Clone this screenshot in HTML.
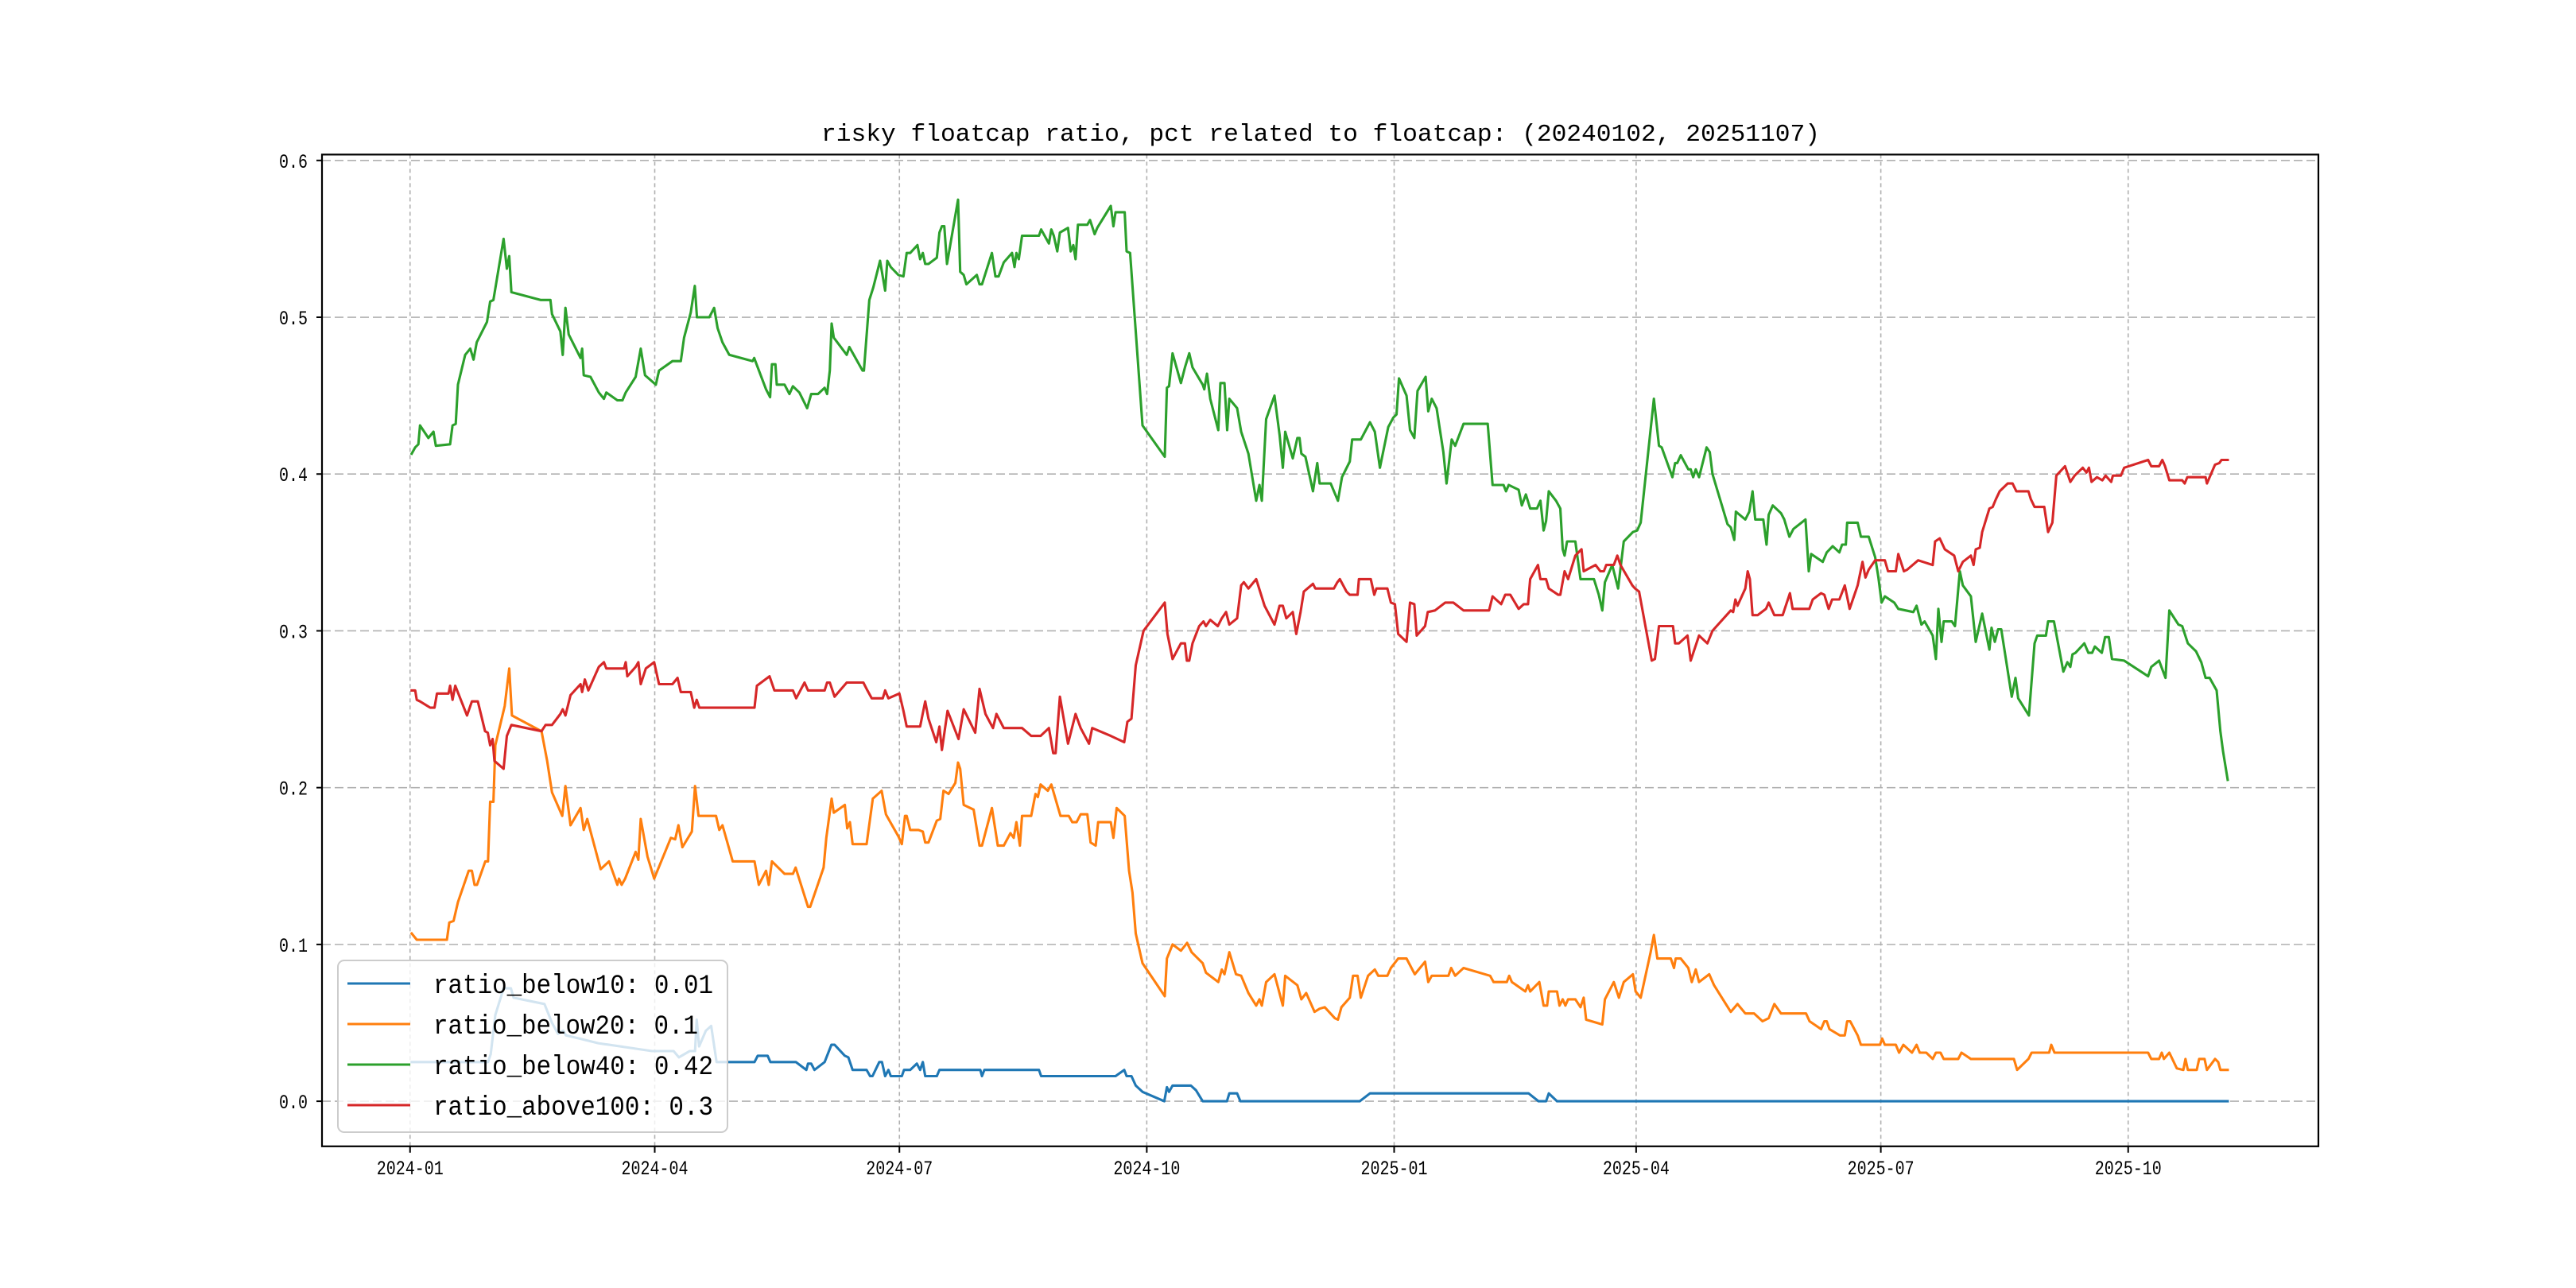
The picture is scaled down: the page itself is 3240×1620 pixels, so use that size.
<!DOCTYPE html>
<html><head><meta charset="utf-8"><title>risky floatcap ratio</title>
<style>html,body{margin:0;padding:0;background:#fff}svg{display:block}</style></head>
<body>
<svg id="chart" xmlns="http://www.w3.org/2000/svg" width="3240" height="1620" viewBox="0 0 3240 1620">
<rect x="0" y="0" width="3240" height="1620" fill="#fff"/>
<text x="1033" y="177" font-family="Liberation Mono, monospace" font-size="31" textLength="1256" lengthAdjust="spacingAndGlyphs" fill="#000">risky floatcap ratio, pct related to floatcap: (20240102, 20251107)</text>
<g id="grid"></g>
<g id="series"></g>
<rect x="405" y="194.4" width="2511" height="1247.4" fill="none" stroke="#000" stroke-width="2.2"/>
<g id="ticks"></g>
<g id="legend"></g>
</svg>
<script>
const yTicks = [0.0, 0.1, 0.2, 0.3, 0.4, 0.5, 0.6];
const yTickLabels = ["0.0", "0.1", "0.2", "0.3", "0.4", "0.5", "0.6"];
const xTickDays = [0, 91, 182, 274, 366, 456, 547, 639];
const xTickLabels = ["2024-01", "2024-04", "2024-07", "2024-10", "2025-01", "2025-04", "2025-07", "2025-10"];
const seriesNames = ["ratio_below10: 0.01", "ratio_below20: 0.1", "ratio_below40: 0.42", "ratio_above100: 0.3"];
const seriesColors = ["#1f77b4", "#ff7f0e", "#2ca02c", "#d62728"];
// [days since 2024-01-01, value]
const below10Points = [[0.6,.025],[29,.025],[30,.03],[31.7,.055],[34.8,.072],[37.5,.072],[38.5,.066],[50,.062],[52.8,.05],[55,.043],[57,.045],[58,.042],[63,.04],[70,.037],[90,.032],[98,.032],[100,.028],[104,.032],[106,.032],[106.6,.052],[107.5,.035],[110,.045],[112,.048],[114,.025],[128.1,.025],[129.3,.029],[133,.029],[134,.025],[143.5,.025],[147.4,.02],[148,.024],[149.2,.024],[150.4,.02],[154.2,.025],[156.7,.036],[157.9,.036],[161.7,.029],[163,.028],[164.6,.02],[169.8,.02],[171.1,.016],[172,.016],[174.5,.025],[175.5,.025],[176.7,.016],[177.9,.02],[178.8,.016],[182.9,.016],[183.7,.02],[186,.02],[188.5,.024],[189.7,.02],[190.7,.025],[191.6,.016],[195.9,.016],[196.9,.02],[212.1,.02],[212.7,.016],[213.6,.02],[233.9,.02],[234.7,.016],[262.4,.016],[265.6,.02],[266.5,.016],[268.3,.016],[269.9,.01],[272.4,.006],[280.5,0],[281.5,.009],[282.3,.006],[283.6,.01],[290.4,.01],[292.3,.007],[294.8,0],[303.8,0],[304.7,.005],[307.6,.005],[308.8,0],[353.2,0],[357,.005],[416,.005],[419.7,0],[422.5,0],[423.5,.005],[426.6,0],[676,0]];
const below20Points = [[0.6,.107],[2.5,.103],[13.7,.103],[14.6,.114],[16.2,.115],[17.8,.127],[21.8,.147],[23,.147],[24,.138],[24.9,.138],[28,.153],[29,.153],[29.8,.191],[31,.191],[31.7,.227],[35.2,.252],[36.9,.276],[37.9,.246],[48.9,.236],[51,.217],[52.8,.197],[56.6,.182],[57.8,.201],[59.7,.176],[63.4,.187],[64.6,.173],[65.9,.18],[70.9,.148],[74,.153],[77.1,.138],[77.7,.142],[78.7,.138],[80,.142],[83.9,.159],[84.9,.154],[85.8,.18],[88.3,.156],[90.8,.142],[97,.168],[98.6,.167],[99.8,.176],[101.3,.162],[104.8,.172],[106,.201],[107.3,.182],[113.8,.182],[115,.173],[116.2,.176],[120,.153],[128.1,.153],[129.7,.138],[132.4,.147],[133.4,.138],[134.6,.153],[139.3,.145],[142.4,.145],[143.4,.149],[148,.124],[148.8,.124],[153.8,.149],[154.8,.168],[156.8,.193],[157.6,.184],[161.7,.189],[162.6,.174],[163.6,.178],[164.6,.164],[169.8,.164],[172.1,.193],[175.4,.198],[177,.183],[178.3,.179],[181.6,.169],[182.9,.164],[184.1,.182],[184.7,.182],[186,.173],[189.1,.173],[190.7,.172],[191.6,.165],[192.8,.165],[195.9,.179],[197.2,.18],[198.4,.198],[200.3,.196],[202.8,.203],[203.8,.216],[204.6,.212],[205.9,.189],[209.6,.186],[211.8,.163],[212.7,.163],[216.4,.187],[218.6,.163],[220.8,.163],[223.3,.171],[224.5,.168],[225.5,.178],[226.8,.163],[227.6,.182],[231,.182],[232.6,.196],[233.5,.194],[234.5,.202],[237.2,.198],[238.5,.202],[241.9,.182],[245,.182],[246.3,.178],[247.9,.178],[249.4,.183],[251.9,.183],[253.1,.165],[255,.163],[255.9,.178],[260.6,.178],[261.6,.168],[262.8,.187],[265.8,.182],[267.4,.147],[268.7,.133],[269.9,.107],[272.4,.088],[280.7,.067],[281.5,.091],[283.6,.1],[286.7,.096],[289,.101],[290.7,.095],[294.8,.088],[296,.082],[300.6,.076],[301.9,.084],[302.9,.081],[304.7,.095],[307.2,.081],[309.1,.08],[311.8,.069],[314.7,.061],[315.9,.065],[316.8,.061],[318.4,.076],[321.5,.081],[324.6,.061],[325.5,.08],[330,.074],[331.5,.065],[333.3,.069],[336.4,.057],[338.3,.059],[340.2,.06],[343.9,.053],[345.1,.052],[346.4,.06],[349.5,.066],[350.7,.08],[352.4,.08],[353.6,.066],[356.3,.08],[358.8,.084],[360.1,.08],[363.5,.08],[364.8,.085],[367.5,.091],[370.6,.091],[373.7,.081],[377.5,.089],[378.7,.076],[380,.08],[386.2,.08],[387.2,.085],[388.7,.08],[391.8,.085],[401.7,.08],[403,.076],[407.9,.076],[408.8,.08],[409.8,.076],[414.8,.07],[415.8,.074],[416.6,.07],[420,.076],[421.6,.061],[422.9,.061],[423.5,.07],[426.6,.07],[427.5,.061],[428.7,.065],[429.7,.061],[430.7,.065],[433.4,.065],[435.3,.06],[436.5,.066],[437.4,.052],[443.4,.049],[444.4,.065],[447.7,.076],[449.6,.066],[451.4,.076],[454.8,.081],[455.8,.07],[457.7,.066],[461.4,.095],[462.6,.106],[463.9,.091],[468.9,.091],[470.1,.085],[470.7,.091],[472.6,.091],[475.4,.085],[476.7,.076],[478.2,.084],[479.4,.076],[483.2,.081],[485,.074],[491.2,.057],[493.7,.062],[496.6,.056],[499.9,.056],[503,.051],[505.3,.053],[507.4,.062],[509.9,.056],[519.2,.056],[520.5,.051],[524.8,.046],[526,.051],[526.9,.051],[527.9,.046],[531.8,.042],[533.6,.042],[534.5,.051],[535.6,.051],[538.4,.042],[539.6,.036],[546.7,.036],[547.5,.04],[548.5,.036],[552.6,.036],[553.8,.031],[555.4,.036],[558.6,.031],[560.3,.036],[561.5,.031],[563.9,.031],[566.3,.027],[567.5,.031],[569.2,.031],[570.4,.027],[575.8,.027],[577,.031],[580.5,.027],[596.5,.027],[597.7,.02],[601.9,.027],[603.1,.031],[609.6,.031],[610.4,.036],[611.6,.031],[646.4,.031],[647.6,.027],[650.5,.027],[651.5,.031],[652.3,.027],[654.3,.031],[657.1,.021],[659.5,.02],[660.3,.027],[661.2,.02],[664.5,.02],[665.4,.027],[667.4,.027],[668.3,.02],[671.3,.027],[672.5,.025],[673.3,.02],[676,.02]];
const below40Points = [[0.6,.413],[1.9,.417],[3.1,.419],[3.7,.431],[6.8,.423],[8.7,.427],[9.6,.418],[14.9,.419],[15.8,.431],[17,.432],[17.8,.457],[20.5,.476],[22.4,.48],[23.6,.473],[24.8,.484],[28.6,.497],[29.8,.51],[31,.511],[34.8,.55],[36,.531],[36.9,.539],[37.7,.516],[48.5,.511],[52.2,.511],[52.8,.502],[55.9,.491],[56.8,.476],[57.8,.506],[59,.489],[63.4,.474],[64,.48],[64.6,.463],[67.1,.462],[70.2,.452],[72.1,.448],[73,.452],[77.1,.447],[79,.447],[80.2,.452],[83.9,.462],[85.8,.48],[87.4,.463],[91.4,.457],[92.6,.466],[97.6,.472],[100.7,.472],[101.9,.487],[104.4,.503],[105.9,.52],[106.7,.5],[111.3,.5],[113.1,.506],[114.4,.493],[116.2,.484],[118.7,.476],[127.4,.472],[128,.474],[132.4,.454],[133.9,.449],[134.6,.47],[135.9,.47],[136.4,.457],[139.3,.457],[141.1,.451],[142.4,.456],[144.8,.452],[147.7,.442],[149.2,.451],[151.7,.451],[154.2,.455],[155.1,.451],[156.1,.466],[156.8,.496],[157.6,.487],[162.4,.476],[163.4,.481],[168.3,.466],[168.8,.466],[170.8,.511],[172.3,.519],[174.8,.536],[176.7,.517],[177.5,.536],[178.8,.532],[181.6,.527],[183.5,.526],[184.7,.541],[186,.541],[188.7,.546],[189.7,.537],[190.7,.541],[191.6,.534],[192.8,.534],[195.9,.538],[196.9,.554],[197.8,.558],[198.7,.558],[199.7,.534],[203.8,.575],[204.6,.529],[205.9,.527],[206.9,.521],[210.8,.527],[211.8,.521],[212.7,.521],[216.4,.541],[217.7,.526],[218.9,.526],[220.8,.535],[223.9,.541],[224.8,.532],[225.5,.541],[226.4,.537],[227.6,.552],[233.9,.552],[234.7,.556],[237.6,.547],[238.5,.556],[239.4,.552],[240.7,.542],[241.7,.554],[244.7,.557],[245.7,.542],[246.7,.546],[247.5,.537],[248.4,.559],[251.9,.559],[252.9,.562],[254.6,.553],[255.6,.557],[260.6,.571],[261.6,.558],[262.4,.567],[265.8,.567],[266.5,.542],[267.8,.541],[272.4,.431],[280.7,.411],[281.5,.455],[282.3,.456],[283.6,.477],[286.7,.458],[288.2,.468],[289.8,.477],[291,.468],[294.8,.457],[295.4,.454],[296.4,.464],[297.6,.448],[300.6,.428],[301.4,.458],[302.9,.458],[303.9,.428],[304.7,.448],[307.6,.442],[309.1,.427],[311.8,.413],[314.7,.383],[315.9,.393],[316.8,.383],[318.4,.435],[321.5,.45],[323.4,.425],[324.6,.404],[325.5,.427],[328.3,.41],[330,.423],[330.8,.423],[331.5,.413],[333,.411],[335.8,.389],[337.4,.407],[338.3,.394],[342.4,.394],[345.1,.383],[346.6,.398],[349.5,.408],[350.4,.422],[353.6,.422],[357,.433],[358.8,.427],[360.7,.404],[363.8,.43],[365.7,.436],[366.9,.438],[367.8,.461],[370.6,.45],[371.9,.428],[373.5,.423],[374.7,.453],[377.7,.462],[378.7,.44],[380,.448],[381.8,.442],[384.3,.414],[385.5,.394],[387.4,.422],[388.7,.418],[391.8,.432],[400.8,.432],[402.6,.393],[406.7,.393],[407.6,.389],[408.6,.393],[412.3,.39],[413.5,.38],[415,.387],[416.6,.378],[419.1,.378],[420.4,.383],[421.6,.364],[422.5,.37],[423.5,.389],[426.2,.383],[427.8,.378],[428.7,.352],[429.4,.348],[430.3,.357],[433.4,.357],[435.3,.333],[440.3,.333],[442.1,.323],[443.4,.313],[444.4,.331],[447.1,.342],[449.3,.327],[451.4,.357],[454.8,.363],[456.4,.364],[457.7,.369],[462.6,.448],[464.5,.418],[465.5,.417],[469.5,.398],[470.5,.407],[471.3,.407],[472.6,.412],[475.4,.403],[476.3,.403],[477.2,.398],[478.2,.403],[479.4,.398],[482.2,.417],[483.4,.414],[484.4,.4],[490,.368],[491.2,.366],[492.5,.358],[493.1,.376],[496.6,.371],[498.1,.376],[499.3,.389],[500.3,.371],[503.3,.371],[504.5,.355],[505.3,.374],[506.8,.38],[509.9,.375],[511.1,.371],[513,.36],[514.5,.365],[519,.371],[520.2,.338],[521.1,.349],[525.4,.344],[526.9,.35],[529.1,.354],[531.6,.35],[532.6,.355],[534,.355],[534.5,.369],[538.4,.369],[539.6,.36],[542.5,.36],[544.9,.347],[546.1,.334],[547.3,.318],[548.5,.322],[552,.318],[553.5,.314],[559.1,.312],[560.3,.316],[562.1,.304],[563.3,.306],[566.3,.297],[567.5,.282],[568.4,.314],[569.6,.293],[570.4,.306],[573.4,.306],[574.6,.303],[576.4,.338],[577.5,.329],[580.5,.322],[582.3,.293],[584.7,.311],[587.4,.288],[588.2,.302],[589.4,.293],[590.6,.301],[591.8,.301],[595.7,.258],[597.1,.27],[598.1,.257],[602.1,.246],[604.2,.292],[605.2,.297],[608.4,.297],[609.2,.306],[611.4,.306],[614.9,.274],[616.4,.28],[617.5,.277],[618.3,.285],[619.4,.286],[622.7,.292],[624.2,.286],[625.6,.286],[626.6,.29],[629.2,.286],[630.4,.296],[631.8,.296],[633,.282],[637.5,.281],[646.4,.271],[647.6,.277],[650.5,.281],[652.9,.27],[654.3,.313],[657.7,.304],[659.1,.303],[661.2,.292],[664.2,.287],[666.2,.28],[667.8,.27],[669.3,.27],[671.9,.262],[673.3,.236],[674.3,.223],[676,.205]];
const above100Points = [[0.6,.262],[1.9,.262],[2.5,.256],[3.7,.255],[7.5,.251],[9.1,.251],[10,.26],[14.3,.26],[14.9,.265],[15.8,.256],[16.8,.265],[21.2,.246],[23,.255],[25.2,.255],[27.9,.236],[28.9,.235],[29.8,.227],[30.7,.231],[31.4,.217],[34.8,.212],[36,.233],[37.7,.24],[48.9,.236],[50.4,.24],[52.8,.24],[55.9,.247],[56.8,.25],[57.8,.246],[59.7,.259],[63.4,.266],[64,.261],[65,.269],[66.3,.262],[70.2,.277],[72.1,.28],[73,.276],[79.6,.276],[80.2,.28],[80.8,.271],[83.9,.277],[84.9,.28],[85.8,.266],[87.7,.276],[90.8,.28],[92.6,.266],[97.6,.266],[99.5,.27],[100.7,.261],[104.4,.261],[105.7,.251],[106.6,.256],[107.6,.251],[128.1,.251],[129,.265],[133.7,.271],[135.5,.262],[142.4,.262],[143.6,.257],[146.7,.267],[148,.262],[154.2,.262],[155.1,.267],[156.1,.267],[157.9,.258],[162.4,.267],[168.6,.267],[170.1,.262],[171.7,.257],[175.8,.257],[176.7,.262],[177.9,.257],[182,.26],[183.5,.249],[184.7,.239],[189.7,.239],[191.6,.255],[192.8,.244],[195.7,.229],[196.9,.239],[197.8,.224],[199.9,.249],[204,.231],[205.9,.25],[210.2,.235],[211.8,.263],[214,.247],[216.8,.238],[218.1,.247],[220.8,.238],[227.6,.238],[231,.233],[234.5,.233],[237.6,.238],[239.2,.222],[240.1,.222],[241.7,.258],[244.7,.228],[247.5,.247],[249.4,.238],[252.5,.228],[253.7,.238],[260.6,.233],[265.6,.229],[266.8,.242],[268.3,.244],[269.9,.278],[272.8,.3],[280.7,.318],[281.7,.298],[283.6,.282],[286.7,.292],[288.2,.292],[288.9,.281],[289.8,.281],[291,.292],[293.5,.303],[295.1,.306],[296,.303],[297.6,.307],[300.4,.303],[301.9,.308],[303.5,.312],[304.7,.304],[307.6,.308],[309.1,.329],[310.1,.331],[311.8,.327],[314.7,.333],[317.8,.316],[321.5,.304],[323.4,.316],[324.6,.316],[325.9,.308],[328.3,.312],[329.6,.298],[331.2,.312],[332.4,.325],[335.8,.33],[336.7,.327],[343.6,.327],[344.9,.331],[345.8,.333],[348.3,.325],[349.5,.323],[352.4,.323],[352.9,.333],[357.3,.333],[358.6,.323],[359.4,.327],[363.5,.327],[364.8,.318],[366.3,.317],[367.5,.298],[370.6,.293],[371.9,.318],[373.5,.317],[374.4,.297],[377.5,.303],[378.5,.312],[381.2,.313],[385,.318],[388,.318],[391.8,.313],[401.3,.313],[402.6,.322],[405.8,.317],[407.3,.323],[409.2,.323],[412.3,.314],[414.2,.317],[415.8,.317],[416.6,.333],[419.5,.342],[420.4,.333],[422.5,.333],[423.5,.327],[427,.323],[427.8,.323],[429.4,.338],[430.7,.333],[433.4,.348],[435.7,.352],[436.5,.338],[440.9,.342],[442.7,.338],[444,.338],[444.9,.342],[447.7,.342],[449,.348],[450.2,.342],[454.6,.329],[455.6,.327],[457.1,.325],[461.8,.281],[463,.282],[464.5,.303],[469.7,.303],[470.5,.292],[471.9,.292],[475.1,.297],[476.3,.281],[479.4,.297],[482.5,.292],[484.4,.3],[491.2,.313],[492.1,.312],[492.9,.32],[493.7,.316],[496.6,.327],[497.5,.338],[498.3,.333],[499.3,.31],[501.2,.31],[504.3,.314],[505.3,.318],[507.4,.31],[510.5,.31],[513.2,.324],[514.2,.314],[520.4,.314],[521.7,.32],[524.8,.324],[526,.323],[527.6,.314],[528.9,.32],[531.6,.32],[533.6,.329],[535.4,.314],[538.4,.329],[540.2,.344],[541.3,.334],[542.5,.339],[544.9,.345],[548.5,.345],[549.7,.338],[552.6,.338],[553.5,.349],[555.6,.338],[556.8,.339],[560.9,.345],[562.7,.344],[566.3,.342],[567.2,.357],[568.9,.359],[570.8,.352],[574.3,.348],[575.8,.338],[577.5,.344],[580.5,.348],[581.5,.342],[582.3,.352],[583.8,.353],[584.7,.363],[587.4,.378],[588.6,.379],[589.8,.384],[591.2,.389],[594.2,.394],[596,.394],[597.4,.389],[601.9,.389],[602.8,.384],[604.2,.379],[607.8,.379],[609.2,.363],[610.8,.369],[612.3,.399],[615.5,.405],[617.5,.395],[619.1,.399],[622.1,.404],[623.5,.401],[624.4,.404],[625.4,.395],[627.4,.398],[629.4,.396],[630.6,.399],[632.7,.395],[633.3,.399],[636.3,.399],[637.5,.404],[646.4,.409],[647.6,.405],[650.5,.405],[651.7,.409],[652.7,.405],[654.3,.396],[659.1,.396],[660,.394],[661,.398],[667.8,.398],[668.3,.394],[671.3,.406],[672.9,.407],[673.7,.409],[676,.409]];

const NS = "http://www.w3.org/2000/svg";
const AX = {l: 405, r: 2916, t: 194.4, b: 1441.8};
const X_MIN = -32.75, X_MAX = 709.75, Y_MIN = -0.02875, Y_MAX = 0.60375;
function xScale(d) { return AX.l + (d - X_MIN) / (X_MAX - X_MIN) * (AX.r - AX.l); }
function yScale(v) { return AX.b - (v - Y_MIN) / (Y_MAX - Y_MIN) * (AX.b - AX.t); }
function mk(tag, attrs, parent) {
  const el = document.createElementNS(NS, tag);
  for (const k in attrs) el.setAttribute(k, attrs[k]);
  parent.appendChild(el);
  return el;
}
const grid = document.getElementById('grid');
const ticks = document.getElementById('ticks');
yTicks.forEach((v, i) => {
  const y = yScale(v);
  const g = mk('line', {x1: AX.l, x2: AX.r, y1: y, y2: y, stroke: '#b0b0b0', 'stroke-width': 1.6, 'stroke-dasharray': '11 5'}, grid);
  
  
  const t = mk('line', {x1: AX.l - 7, x2: AX.l, y1: y, y2: y, stroke: '#000', 'stroke-width': 2}, ticks);
  
  
  const lbl = mk('text', {x: 387, y: y + 9, 'text-anchor': 'end', 'font-family': 'Liberation Mono, monospace', 'font-size': 25, textLength: 36, lengthAdjust: 'spacingAndGlyphs', fill: '#000'}, ticks);
  lbl.textContent = yTickLabels[i];
  
  
});
xTickDays.forEach((d, i) => {
  const x = xScale(d);
  const g = mk('line', {x1: x, x2: x, y1: AX.t, y2: AX.b, stroke: '#b0b0b0', 'stroke-width': 1.6, 'stroke-dasharray': '5 4'}, grid);
  
  
  const t = mk('line', {x1: x, x2: x, y1: AX.b, y2: AX.b + 8, stroke: '#000', 'stroke-width': 2}, ticks);
  
  
  const lbl = mk('text', {x: x - 42, y: 1477, 'font-family': 'Liberation Mono, monospace', 'font-size': 25, textLength: 84, lengthAdjust: 'spacingAndGlyphs', fill: '#000'}, ticks);
  lbl.textContent = xTickLabels[i];
  
  
});
const seriesG = document.getElementById('series');
const allSeries = [below10Points, below20Points, below40Points, above100Points];
const seriesIds = ['line-ratio-below10', 'line-ratio-below20', 'line-ratio-below40', 'line-ratio-above100'];
allSeries.forEach((pts, i) => {
  const d = pts.map((p, j) => (j ? 'L' : 'M') + xScale(p[0]).toFixed(1) + ' ' + yScale(p[1]).toFixed(1)).join(' ');
  const path = mk('path', {d: d, fill: 'none', stroke: seriesColors[i], 'stroke-width': 3.1, 'stroke-linejoin': 'round', 'stroke-linecap': 'square'}, seriesG);
  
  
});
const legend = document.getElementById('legend');
const box = mk('rect', {x: 425, y: 1208, width: 490, height: 216, rx: 8, fill: '#fff', 'fill-opacity': 0.8, stroke: '#cccccc', 'stroke-width': 2}, legend);


seriesNames.forEach((name, i) => {
  const cy = 1237 + i * 51;
  const ln = mk('line', {x1: 437, x2: 516, y1: cy, y2: cy, stroke: seriesColors[i], 'stroke-width': 3.1}, legend);
  
  
  const tx = mk('text', {x: 545, y: cy + 12, 'font-family': 'Liberation Mono, monospace', 'font-size': 34, textLength: (name.length * 18.5).toFixed(0), lengthAdjust: 'spacingAndGlyphs', fill: '#000'}, legend);
  tx.textContent = name;
  
  
});
</script>
</body></html>
